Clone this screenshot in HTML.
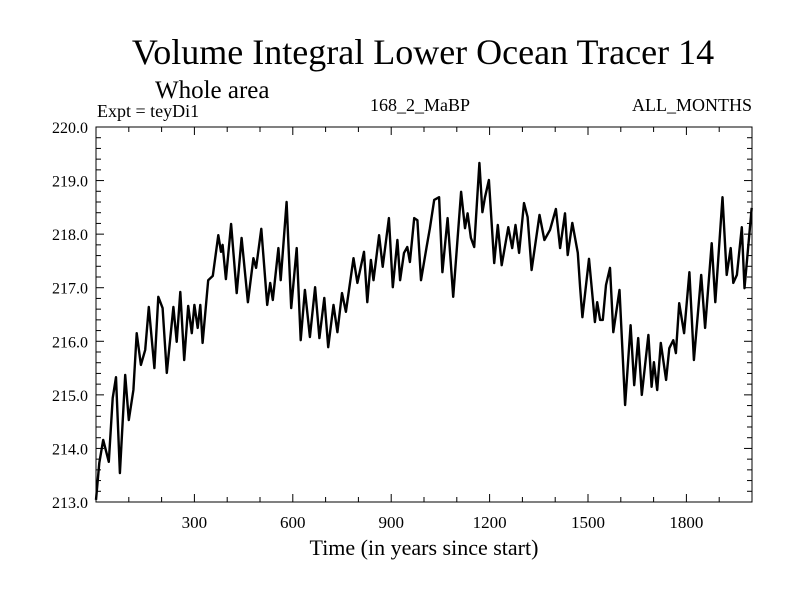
<!DOCTYPE html>
<html><head><meta charset="utf-8"><style>
html,body{margin:0;padding:0;background:#fff}
svg{display:block}
text{font-family:"Liberation Serif",serif;fill:#000}
</style></head><body>
<svg id="chart" width="800" height="600" xmlns="http://www.w3.org/2000/svg">
<text x="423" y="64" font-size="36" text-anchor="middle">Volume Integral Lower Ocean Tracer 14</text>
<text x="155" y="98" font-size="25">Whole area</text>
<text x="97" y="117" font-size="18">Expt = teyDi1</text>
<text x="420" y="111" font-size="18" text-anchor="middle">168_2_MaBP</text>
<text x="752" y="111" font-size="18" text-anchor="end">ALL_MONTHS</text>
<text x="424" y="555" font-size="22" text-anchor="middle">Time (in years since start)</text>
<g id="axes"></g>
<path id="series" fill="none" stroke="#000" stroke-width="2.4" stroke-linejoin="round"/>
<rect x="96" y="127" width="656" height="375" fill="none" stroke="#000" stroke-width="1"/>
</svg>
<script>
const years=[0,10,22,39,51,61,73,89,100,114,124,137,150,161,178,190,203,216,236,246,257,269,281,292,300,310,318,325,342,356,373,381,386,396,412,429,444,463,480,488,504,522,531,539,556,563,581,595,612,624,637,652,668,681,696,708,724,736,750,762,785,797,817,827,838,846,863,874,893,905,919,927,939,949,957,970,980,991,1008,1018,1031,1046,1056,1072,1089,1113,1125,1133,1143,1153,1169,1178,1186,1198,1214,1225,1237,1257,1269,1279,1290,1305,1316,1328,1352,1367,1384,1402,1415,1430,1438,1452,1469,1476,1483,1503,1521,1528,1537,1545,1555,1567,1577,1596,1613,1630,1641,1653,1664,1684,1694,1701,1711,1722,1738,1748,1760,1768,1778,1793,1809,1823,1845,1857,1877,1888,1910,1923,1935,1943,1954,1969,1977,1999];
const values=[213.04,213.73,214.16,213.75,214.94,215.33,213.54,215.37,214.53,215.09,216.15,215.56,215.84,216.64,215.50,216.83,216.62,215.41,216.64,215.99,216.92,215.65,216.66,216.15,216.68,216.25,216.68,215.97,217.14,217.22,217.98,217.67,217.80,217.16,218.19,216.90,217.93,216.73,217.55,217.37,218.10,216.68,217.09,216.77,217.74,217.14,218.60,216.62,217.74,216.02,216.96,216.08,217.01,216.06,216.81,215.89,216.68,216.17,216.90,216.55,217.55,217.09,217.67,216.73,217.52,217.14,217.98,217.39,218.30,217.01,217.89,217.14,217.65,217.76,217.48,218.30,218.26,217.14,217.76,218.11,218.64,218.69,217.29,218.30,216.83,218.79,218.11,218.39,217.93,217.76,219.33,218.41,218.69,219.01,217.46,218.17,217.42,218.13,217.74,218.17,217.65,218.58,218.32,217.33,218.36,217.89,218.08,218.47,217.74,218.39,217.61,218.21,217.65,217.01,216.45,217.54,216.36,216.73,216.40,216.40,217.05,217.37,216.17,216.96,214.81,216.30,215.18,216.06,215.00,216.12,215.15,215.61,215.09,215.97,215.28,215.87,216.02,215.78,216.71,216.15,217.29,215.65,217.24,216.25,217.83,216.73,218.69,217.24,217.74,217.09,217.24,218.13,216.99,218.49];
const xTickLabels=[300,600,900,1200,1500,1800];
const yTickLabels=["213.0","214.0","215.0","216.0","217.0","218.0","219.0","220.0"];
const X0=96,X1=752,Y0=502,Y1=127,XMIN=0,XMAX=2000,YMIN=213,YMAX=220;
function xs(v){return X0+(v-XMIN)/(XMAX-XMIN)*(X1-X0);}
function ys(v){return Y0-(v-YMIN)/(YMAX-YMIN)*(Y0-Y1);}
const NS="http://www.w3.org/2000/svg";
const g=document.getElementById('axes');
function line(x1,y1,x2,y2,name){
  const l=document.createElementNS(NS,'line');
  l.setAttribute('x1',x1);l.setAttribute('y1',y1);l.setAttribute('x2',x2);l.setAttribute('y2',y2);
  l.setAttribute('stroke','#000');l.setAttribute('stroke-width','1');
  
  
  g.appendChild(l);
}
for(let yr=100;yr<2000;yr+=100){
  const x=xs(yr),len=(yr%300===0)?8:5;
  line(x,Y0,x,Y0-len,'x-tick');
  line(x,Y1,x,Y1+len,'x-tick-top');
}
for(let i=1;i<35;i++){
  const v=YMIN+i*0.2,y=ys(v),len=(i%5===0)?8:5;
  line(X0,y,X0+len,y,'y-tick');
  line(X1,y,X1-len,y,'y-tick-right');
}
xTickLabels.forEach(v=>{
  const t=document.createElementNS(NS,'text');
  t.setAttribute('x',xs(v));t.setAttribute('y',528);t.setAttribute('font-size','17');t.setAttribute('text-anchor','middle');
  t.textContent=v;
  
  
  g.appendChild(t);
});
yTickLabels.forEach(s=>{
  const t=document.createElementNS(NS,'text');
  t.setAttribute('x',88);t.setAttribute('y',ys(parseFloat(s))+6);t.setAttribute('font-size','16');t.setAttribute('text-anchor','end');
  t.textContent=s;
  
  
  g.appendChild(t);
});
let d='';
years.forEach((yr,i)=>{d+=(i?'L':'M')+xs(yr).toFixed(1)+','+ys(values[i]).toFixed(1);});
document.getElementById('series').setAttribute('d',d);
</script>
</body></html>
